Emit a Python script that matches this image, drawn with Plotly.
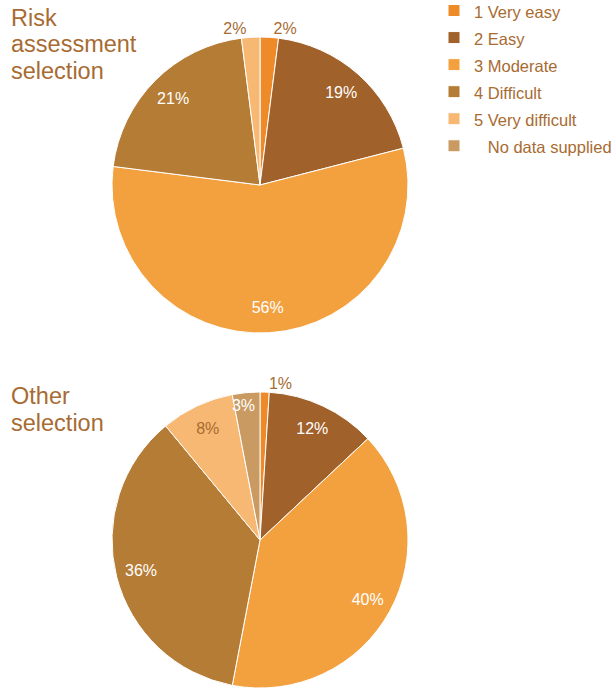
import plotly.graph_objects as go

labels1 = ["1 Very easy", "2 Easy", "3 Moderate", "4 Difficult", "5 Very difficult"]
values1 = [2, 19, 56, 21, 2]
labels2 = ["1 Very easy", "2 Easy", "3 Moderate", "4 Difficult", "5 Very difficult", "No data supplied"]
values2 = [1, 12, 40, 36, 8, 3]
title1 = ["Risk", "assessment", "selection"]
title2 = ["Other", "selection"]

colors = ["#EF8A28", "#A1612A", "#F3A13F", "#B57C35", "#F6B872", "#C99A62"]
brown = "#A86B32"
font = "Liberation Sans, Arial, sans-serif"

# where each percentage label sits: outside the rim, inside near the rim, or tucked in at the rim
pos1 = ["outside", "inside", "inside", "inside", "outside"]
tcol1 = [brown, "white", "white", "white", brown]
pos2 = ["outside", "inside", "inside", "inside", "inside", "rim"]
tcol2 = [brown, "white", "white", "white", brown, "white"]

W, H = 616, 689
def px(x):
    return x / W
def py(y):
    return 1 - y / H

def leg_label(s):
    pad = "\u00a0\u00a0\u00a0" if s.startswith("No") else ""
    return "<span style='font-size:16.5px'>" + pad + s + "</span>"

def dom(cx, cy, r):
    return dict(x=[px(cx - r), px(cx + r)], y=[py(cy + r), py(cy - r)])

fig = go.Figure()
for labs, vals, pos, tcol, (cx, cy) in [
    (labels1, values1, pos1, tcol1, (260, 185)),
    (labels2, values2, pos2, tcol2, (260, 540)),
]:
    ll = [leg_label(s) for s in labs]
    R = 148
    # filled pie with the outside labels
    fig.add_trace(go.Pie(
        labels=ll, values=vals, sort=False, direction="clockwise", rotation=0,
        marker=dict(colors=colors[:len(vals)], line=dict(color="white", width=1)),
        texttemplate=["%{value}%" if p == "outside" else "" for p in pos],
        textposition=["outside" if p == "outside" else "inside" for p in pos],
        textfont=dict(color=tcol, size=16, family=font),
        hoverinfo="label+value", domain=dom(cx, cy, R),
    ))
    # transparent ring overlay that places the inside labels near the rim
    fig.add_trace(go.Pie(
        labels=ll, values=vals, sort=False, direction="clockwise", rotation=0, hole=0.66,
        marker=dict(colors=["rgba(0,0,0,0)"] * len(vals), line=dict(width=0)),
        texttemplate=["%{value}%" if p == "inside" else "" for p in pos],
        textposition="inside",
        textfont=dict(color=tcol, size=16, family=font),
        insidetextorientation="horizontal", hoverinfo="skip", showlegend=False,
        domain=dom(cx, cy, R),
    ))
    if "rim" in pos:
        # narrow last slice: label placed just outside a smaller invisible pie, i.e. inside the rim;
        # that pie is turned so the slice's middle sits at 12 o'clock
        rot = 180.0 * vals[-1] / sum(vals) - 0.3
        fig.add_trace(go.Pie(
            labels=ll, values=vals, sort=False, direction="clockwise", rotation=rot,
            marker=dict(colors=["rgba(0,0,0,0)"] * len(vals), line=dict(width=0)),
            texttemplate=["%{value}%" if p == "rim" else "" for p in pos],
            textposition="outside",
            textfont=dict(color=tcol, size=16, family=font),
            hoverinfo="skip", showlegend=False,
            domain=dom(cx, cy, 126),
        ))

for lines, top in [(title1, 2.5), (title2, 381)]:
    for i, t in enumerate(lines):
        fig.add_annotation(text=t, x=px(9), y=py(top + 27 * i), xref="paper", yref="paper",
                           xanchor="left", yanchor="top", align="left", showarrow=False,
                           font=dict(size=23.5, color=brown, family=font))

fig.update_layout(
    width=W, height=H, margin=dict(l=0, r=0, t=0, b=0, autoexpand=False),
    paper_bgcolor="white", plot_bgcolor="white",
    font=dict(family=font, color=brown),
    legend=dict(x=px(434), y=py(-8), xanchor="left", yanchor="top",
                font=dict(size=18.5, color=brown, family=font),
                traceorder="normal", bgcolor="rgba(0,0,0,0)"),
    showlegend=True,
)
fig.write_html("out.html", config={"displayModeBar": False},
               post_script="document.body.style.margin='0';")
